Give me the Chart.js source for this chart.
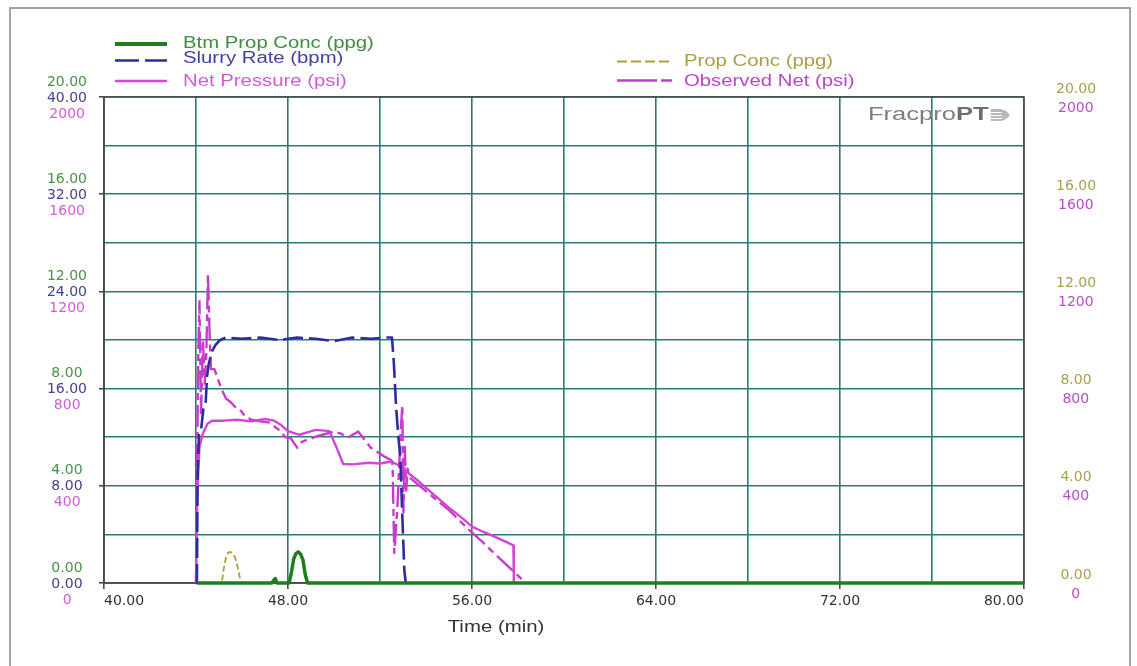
<!DOCTYPE html>
<html>
<head>
<meta charset="utf-8">
<script src="https://cdn.jsdelivr.net/npm/chart.js@4.4.1/dist/chart.umd.min.js"></script>
<style>
  html, body { margin: 0; padding: 0; background: #fff; }
  #wrap { width: 1137px; height: 666px; position: relative; }
</style>
</head>
<body>
<div id="wrap"><canvas id="chart"></canvas></div>
<script>
// tick labels
const timeTicks = [40, 48, 56, 64, 72, 80];                 // min
const concTicks = [0, 4, 8, 12, 16, 20];                    // ppg
const rateTicks = [0, 8, 16, 24, 32, 40];                   // bpm
const pressureTicks = [0, 400, 800, 1200, 1600, 2000];      // psi

// Slurry Rate (bpm)
const slurryTime = [44.00, 44.04, 44.07, 44.13, 44.22, 44.32, 44.42, 44.48, 44.55, 44.68,
                    44.85, 45.05, 45.3, 46.0, 46.8, 47.6, 48.4, 49.2, 50.0, 50.8,
                    51.6, 52.2, 52.52, 52.6, 52.7, 52.8, 52.88, 52.98, 53.06, 53.12];
const slurryRate = [0, 0, 9.0, 12.2, 12.6, 14.3, 14.8, 17.0, 18.0, 19.0,
                    19.6, 20.0, 20.2, 20.1, 20.2, 20.0, 20.2, 20.1, 19.9, 20.2,
                    20.1, 20.2, 20.2, 18.2, 14.5, 12.0, 10.5, 5.0, 1.0, 0];

// Btm Prop Conc (ppg)
const btmTime = [44.05, 47.3, 47.38, 47.45, 47.52, 48.05, 48.15, 48.25, 48.35, 48.45, 48.55, 48.65, 48.75, 48.85, 80];
const btmConc = [0, 0, 0.12, 0.18, 0, 0, 0.45, 1.0, 1.22, 1.28, 1.18, 0.95, 0.35, 0, 0];

// Prop Conc (ppg)
const propTime = [44.05, 45.12, 45.2, 45.3, 45.4, 45.5, 45.6, 45.7, 45.8, 45.9, 45.98];
const propConc = [0, 0, 0.55, 1.05, 1.25, 1.28, 1.2, 1.05, 0.7, 0.25, 0];

// Net Pressure (psi), model
const netTime = [44.0, 44.05, 44.15, 44.3, 44.5, 44.7, 45.2, 45.8, 46.4, 47.0,
                 47.4, 47.7, 48.0, 48.5, 49.2, 49.8, 50.1, 50.4, 50.8, 51.5,
                 52.0, 52.5, 52.9, 53.2, 53.6, 54.2, 55.0, 55.6, 56.0, 56.5,
                 57.0, 57.5, 57.8, 57.82];
const netPressure = [0, 350, 560, 615, 655, 668, 668, 672, 665, 675,
                     668, 650, 625, 610, 630, 625, 560, 490, 488, 495,
                     492, 500, 480, 455, 425, 375, 310, 265, 232, 210,
                     190, 168, 155, 0];

// Observed Net (psi)
const obsTime = [44.0, 44.05, 44.1, 44.15, 44.22, 44.3, 44.38, 44.45, 44.52, 44.6,
                 44.65, 44.8, 44.95, 45.1, 45.3, 45.5, 45.7, 45.9, 46.1, 46.4,
                 46.8, 47.2, 47.6, 47.9, 48.1, 48.4, 48.6, 49.3, 50.0, 50.3,
                 50.6, 51.05, 51.6, 52.2, 52.5, 52.55, 52.62, 52.75, 52.9, 52.97,
                 53.02, 53.08, 53.14, 53.2, 53.3, 54.2, 55.0, 55.8, 56.5, 56.9,
                 57.5, 58.2, 58.3];
const obsNet = [0, 500, 950, 1160, 700, 1000, 820, 950, 1270, 1000,
                880, 880, 840, 800, 760, 745, 725, 715, 690, 672,
                665, 660, 630, 600, 598, 557, 581, 605, 623, 615,
                598, 623, 557, 520, 505, 480, 124, 300, 620, 734,
                290, 560, 380, 470, 433, 362, 300, 225, 165, 128,
                75, 12, 0];

const GREEN = '#1e7d1e', BLUE = '#2c2ca0', MAGENTA = '#d246d6', OBS = '#c63ccc', OLIVE = '#a8a23c';
const GRID = '#2c7878', FRAME = '#4a4a4a';
const tickFont = { family: 'DejaVu Sans', size: 14 };

const pts = (xs, ys) => xs.map((x, i) => ({ x: x, y: ys[i] }));

// draw horizontally widened text
function wideText(ctx, text, x, y, font, color, sx, align) {
  ctx.save();
  ctx.font = font;
  ctx.fillStyle = color;
  ctx.textBaseline = 'middle';
  ctx.translate(x, y);
  ctx.scale(sx, 1);
  const w = ctx.measureText(text).width;
  ctx.fillText(text, align === 'center' ? -w / 2 : 0, 0);
  ctx.restore();
  return w * sx;
}

function legendLine(ctx, x1, x2, y, color, width, dash) {
  ctx.save();
  ctx.strokeStyle = color;
  ctx.lineWidth = width;
  ctx.setLineDash(dash);
  ctx.beginPath();
  ctx.moveTo(x1, y);
  ctx.lineTo(x2, y);
  ctx.stroke();
  ctx.restore();
}

const decor = {
  id: 'decor',
  // the stacked axes have zero width; open their boxes up so the labels are not clipped
  afterLayout(chart) {
    ['yBtm', 'yRate'].forEach(id => { chart.scales[id].left = 0; });
    chart.scales.yProp.right = chart.width;
  },
  beforeDraw(chart) {
    const ctx = chart.ctx;
    ctx.save();
    ctx.fillStyle = '#fff';
    ctx.fillRect(0, 0, chart.width, chart.height);
    ctx.strokeStyle = '#a4a4a4';
    ctx.lineWidth = 2;
    ctx.strokeRect(10, 8, 1120, 700);
    ctx.restore();
  },
  beforeDatasetsDraw(chart) {
    const { ctx, chartArea: a } = chart;
    ctx.save();
    ctx.strokeStyle = FRAME;
    ctx.lineWidth = 1.5;
    ctx.strokeRect(a.left, a.top, a.right - a.left, a.bottom - a.top);
    ctx.restore();
  },
  afterDraw(chart) {
    const ctx = chart.ctx;
    const f = '16px "Liberation Sans", Arial, sans-serif';

    // legend, left block
    legendLine(ctx, 115, 167, 44, GREEN, 4, []);
    wideText(ctx, 'Btm Prop Conc (ppg)', 183, 43.5, f, '#3f8d3f', 1.27);
    legendLine(ctx, 115, 167, 60.5, BLUE, 2.5, [24, 6]);
    wideText(ctx, 'Slurry Rate (bpm)', 183, 59, f, '#42429e', 1.27);
    legendLine(ctx, 115, 167, 81, MAGENTA, 2.5, []);
    wideText(ctx, 'Net Pressure (psi)', 183, 82, f, '#d458d8', 1.27);

    // legend, right block
    legendLine(ctx, 617, 672, 61.5, OLIVE, 2, [10, 4]);
    wideText(ctx, 'Prop Conc (ppg)', 684, 62, f, '#a8a04c', 1.27);
    legendLine(ctx, 617, 672, 80.5, OBS, 2.5, [40, 4, 11, 10]);
    wideText(ctx, 'Observed Net (psi)', 684, 82, f, '#b848c4', 1.27);

    // logo
    const w1 = wideText(ctx, 'Fracpro', 868, 115, '18px "Liberation Sans", Arial, sans-serif', '#7d7d7d', 1.42);
    const w2 = wideText(ctx, 'PT', 868 + w1, 115, 'bold 18px "Liberation Sans", Arial, sans-serif', '#6e6e6e', 1.42);
    const lx = 868 + w1 + w2 + 2;
    ctx.save();
    ctx.fillStyle = '#b8b8b8';
    ctx.beginPath();
    ctx.moveTo(lx, 109);
    ctx.lineTo(lx + 10, 109);
    ctx.quadraticCurveTo(lx + 16, 110, lx + 19, 115);
    ctx.quadraticCurveTo(lx + 16, 120, lx + 10, 121);
    ctx.lineTo(lx, 121);
    ctx.closePath();
    ctx.fill();
    ctx.strokeStyle = '#fff';
    ctx.lineWidth = 1;
    [112, 115, 118].forEach(y => {
      ctx.beginPath();
      ctx.moveTo(lx, y + 0.5);
      ctx.lineTo(lx + 11, y + 0.5);
      ctx.stroke();
    });
    ctx.restore();

    // x axis title
    wideText(ctx, 'Time (min)', 496, 627, '17px "Liberation Sans", Arial, sans-serif', '#333', 1.2, 'center');
  }
};

new Chart(document.getElementById('chart'), {
  type: 'line',
  data: {
    datasets: [
      { label: 'Btm Prop Conc (ppg)', data: pts(btmTime, btmConc), yAxisID: 'yBtm',
        borderColor: GREEN, borderWidth: 3.5 },
      { label: 'Slurry Rate (bpm)', data: pts(slurryTime, slurryRate), yAxisID: 'yRate',
        borderColor: BLUE, borderWidth: 2.6, borderDash: [20, 6] },
      { label: 'Net Pressure (psi)', data: pts(netTime, netPressure), yAxisID: 'yNet',
        borderColor: MAGENTA, borderWidth: 2.4 },
      { label: 'Prop Conc (ppg)', data: pts(propTime, propConc), yAxisID: 'yProp',
        borderColor: OLIVE, borderWidth: 1.8, borderDash: [6, 3] },
      { label: 'Observed Net (psi)', data: pts(obsTime, obsNet), yAxisID: 'yObs',
        borderColor: OBS, borderWidth: 2.4, borderDash: [22, 5, 7, 5] }
    ]
  },
  options: {
    responsive: true,
    maintainAspectRatio: false,
    animation: false,
    layout: { padding: { top: 97, left: 0, right: 0, bottom: 0 } },
    elements: {
      point: { radius: 0 },
      line: { tension: 0, fill: false, borderJoinStyle: 'round' }
    },
    datasets: { line: { clip: 6 } },
    plugins: { legend: { display: false }, tooltip: { enabled: false } },
    scales: {
      x: {
        type: 'linear', min: 40, max: 80,
        afterFit: s => { s.height = 83; },
        ticks: {
          stepSize: 4, autoSkip: false, maxRotation: 0, align: 'inner', padding: 4,
          color: '#333', font: tickFont,
          callback: v => timeTicks.includes(v) ? v.toFixed(2) : ''
        },
        grid: {
          color: GRID, lineWidth: 1.6, tickLength: 6,
          tickColor: c => (c.tick && timeTicks.includes(c.tick.value)) ? FRAME : 'rgba(0,0,0,0)'
        },
        border: { color: FRAME, width: 1.5 }
      },
      yBtm: {
        position: 'left', min: 0, max: 20,
        afterFit: s => { s.width = 0; },
        ticks: {
          stepSize: 2, autoSkip: false, crossAlign: 'center', padding: 12, labelOffset: -15,
          color: '#4a904a', font: tickFont,
          callback: v => concTicks.includes(v) ? v.toFixed(2) : ''
        },
        grid: {
          color: GRID, lineWidth: 1.6, tickLength: 5,
          tickColor: c => (c.tick && concTicks.includes(c.tick.value)) ? FRAME : 'rgba(0,0,0,0)'
        },
        border: { color: FRAME, width: 1.5 }
      },
      yRate: {
        position: 'left', min: 0, max: 40,
        afterFit: s => { s.width = 0; },
        afterBuildTicks: s => { s.ticks = rateTicks.map(v => ({ value: v })); },
        ticks: {
          autoSkip: false, crossAlign: 'center', padding: 17, labelOffset: 1,
          color: '#42428e', font: tickFont, callback: v => v.toFixed(2)
        },
        grid: { display: false, drawTicks: false },
        border: { display: false }
      },
      yNet: {
        position: 'left', min: 0, max: 2000,
        afterFit: s => { s.width = 104; },
        afterBuildTicks: s => { s.ticks = pressureTicks.map(v => ({ value: v })); },
        ticks: {
          autoSkip: false, crossAlign: 'center', padding: 19, labelOffset: 17,
          color: '#d45cd4', font: tickFont, callback: v => String(v)
        },
        grid: { display: false, drawTicks: false },
        border: { display: false }
      },
      yProp: {
        position: 'right', min: 0, max: 20,
        afterFit: s => { s.width = 0; },
        afterBuildTicks: s => { s.ticks = concTicks.map(v => ({ value: v })); },
        ticks: {
          autoSkip: false, crossAlign: 'center', padding: 32, labelOffset: -8,
          color: '#a6a050', font: tickFont, callback: v => v.toFixed(2)
        },
        grid: { display: false, drawTicks: false },
        border: { display: false }
      },
      yObs: {
        position: 'right', min: 0, max: 2000,
        afterFit: s => { s.width = 113; },
        afterBuildTicks: s => { s.ticks = pressureTicks.map(v => ({ value: v })); },
        ticks: {
          autoSkip: false, crossAlign: 'center', padding: 34, labelOffset: 11,
          color: '#b44ec6', font: tickFont, callback: v => String(v)
        },
        grid: { display: false, drawTicks: false },
        border: { display: false }
      }
    }
  },
  plugins: [decor]
});
</script>
</body>
</html>
